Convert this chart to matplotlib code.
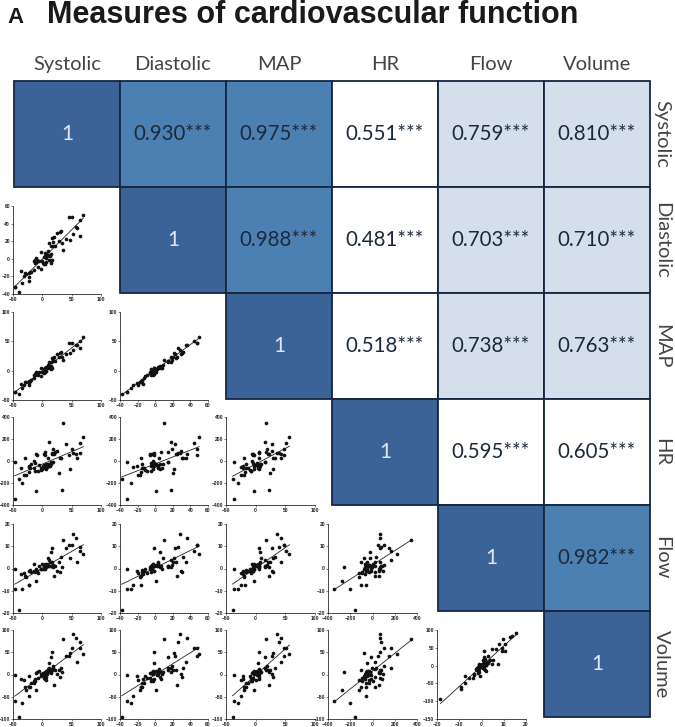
import numpy as np
import matplotlib
matplotlib.use('Agg')
import matplotlib.pyplot as plt
from matplotlib.patches import Rectangle

W, H = 675, 727

names = ['Systolic', 'Diastolic', 'MAP', 'HR', 'Flow', 'Volume']
r_labels = [['1', '0.930', '0.975', '0.551', '0.759', '0.810'],
            ['', '1', '0.988', '0.481', '0.703', '0.710'],
            ['', '', '1', '0.518', '0.738', '0.763'],
            ['', '', '', '1', '0.595', '0.605'],
            ['', '', '', '', '1', '0.982'],
            ['', '', '', '', '', '1']]

systolic = [-47, -47, -40, -37, -35, -31, -29, -27, -23, -22, -22, -21, -19, -15, -14, -13, -12,
            -11, -10, -9, -8, -6, -3, -2, 0, 1, 2, 3, 4, 5, 5, 6, 6, 7, 8, 9, 10, 11, 12, 13, 14,
            15, 15, 16, 17, 18, 19, 20, 21, 25, 29, 30, 33, 32, 35, 41, 46, 48, 50, 52, 57, 59,
            65, 65, 70]
diastolic = [-32, -32, -38, -14, -28, -20, -16, -17, -16, -25, -21, -15, -15, -13, -3, -5, -1,
             -4, 1, -1, -9, -2, -12, 8, -3, -5, -6, 2, -6, 7, 3, 1, 5, -4, 3, 4, 9, 18, -1, 3, 5,
             -5, 14, -1, 24, 19, 14, 25, 14, 29, 20, 30, 18, 32, 10, 22, 48, 21, 47, 28, 36, 35,
             44, 26, 50]
map_p = [-37, -37, -39, -22, -30, -24, -20, -20, -18, -24, -21, -17, -16, -13, -7, -8, -5,
         -6, -2, -4, -8, -3, -9, 5, -2, -3, -4, 2, -3, 5, 4, 3, 6, 0, 5, 6, 9, 15, 4, 7, 8,
         2, 15, 5, 21, 19, 16, 23, 17, 28, 24, 30, 23, 32, 18, 28, 48, 30, 48, 36, 43, 43,
         51, 39, 57]
hr = [-350, -10, -160, -65, -200, -125, 25, -125, -100, -55, -50, -60, -30, -60, 0, -90, -15,
      65, -275, 55, -95, -40, -80, -60, -70, -50, 65, -35, 55, 85, -60, -30, -70, -35, -55, 25,
      -25, 170, -45, -50, -25, -20, -10, 70, 65, 105, -5, 60, 80, 90, -105, 25, -260, 30, 345,
      150, 50, -75, 105, 70, 65, 25, 165, 75, 220]
flow = [-9, 0, -18.5, -2.5, -9, -2, -3.5, -4, -7.5, -7.5, -1, -0.5, -1.5, -1, 2, -1.5, -1,
        0, -5.5, -1, -2, 1, 0, 0, 2, 0, 0.5, 1, 0, 1, 2, 1.5, 0.5, 1.5, 2, 1, 4.5, 4, 1, 3,
        7.5, 1, 1, 9, 3, 1.5, 0.5, -3.5, 1, -1, 3, -1.5, 0.5, 5, 13, 9, 10.5, 4.5, 10.5, 15.5,
        13.5, 3, 8, 9.5, 6.3]
volume = [-60, -2, -95, -10, -65, -12, -27, -34, -28, -48, -3, -28, -20, -18, -14, -14, -10,
          3, -35, 5, -7, 7, -3, 2, 1, 4, -8, -2, 3, -10, 5, 8, -5, -12, 2, 12, 5, 15, 25, 8,
          5, 3, 40, 50, 10, 18, 15, -23, 10, 2, 10, -5, 5, 15, 79, 42, 42, 48, 60, 92, 82, 28,
          60, 74, 47]
series = [systolic, diastolic, map_p, hr, flow, volume]

x_ticks = [[-50, 0, 50, 100], [-40, -20, 0, 20, 40, 60], [-50, 0, 50, 100],
           [-400, -200, 0, 200, 400], [-20, -10, 0, 10, 20]]
y_ticks = [None, [-40, -20, 0, 20, 40, 60], [-50, 0, 50, 100], [-400, -200, 0, 200, 400],
           [-20, -10, 0, 10, 20], [-100, -50, 0, 50, 100]]
vol_flow_yticks = [-150, -100, -50, 0, 50, 100]

# panel boxes in pixels
col_left = [13, 120, 226, 328, 437]
col_right = [101, 208, 315, 417, 526]
row_top = [0, 206, 312, 417, 524, 630]
row_bot = [0, 294, 400, 505, 613, 719]

DARK = '#3c6398'
MID = '#4c80b2'
LIGHT = '#d5deeb'


def cell_color(txt):
    if txt == '1':
        return DARK
    v = float(txt)
    if v >= 0.9:
        return MID
    if v >= 0.7:
        return LIGHT
    return 'white'


def px_axes(l, t, r, b):
    return fig.add_axes([l / W, 1 - b / H, (r - l) / W, (b - t) / H])


fig = plt.figure(figsize=(W / 100, H / 100), dpi=100)

# correlation cells
ax = px_axes(14, 81, 650, 717)
ax.set_xlim(0, 6)
ax.set_ylim(6, 0)
ax.axis('off')
for i in range(6):
    ax.text(i + 0.5, -0.16, names[i], ha='center', va='center', family='Lato', fontsize=14.5, color='#444444')
    ax.text(6.11, i + 0.5, names[i], ha='center', va='center', family='Lato', fontsize=14.5, color='#444444',
            rotation=270, clip_on=False)
    for j in range(i, 6):
        txt = r_labels[i][j]
        ax.add_patch(Rectangle((j, i), 1, 1, fc=cell_color(txt), ec='#16263f', lw=1.3, clip_on=False))
        if txt == '1':
            ax.text(j + 0.5, i + 0.5, txt, ha='center', va='center', family='Lato', fontsize=15, color='#dfe6f2')
        else:
            ax.text(j + 0.5, i + 0.5, txt + '***', ha='center', va='center', family='Lato', fontsize=14.8,
                    color='#1c2a3c')

# scatter panels
for row in range(1, 6):
    for col in range(row):
        a = px_axes(col_left[col], row_top[row], col_right[col], row_bot[row])
        x = np.array(series[col], dtype=float)
        y = np.array(series[row], dtype=float)
        a.scatter(x, y, s=7, color='#111111', linewidths=0, zorder=3, clip_on=False)
        m, c = np.polyfit(x, y, 1)
        xs = np.array([x.min(), x.max()])
        a.plot(xs, m * xs + c, color='#222222', lw=0.6)
        xt = x_ticks[col]
        yt = vol_flow_yticks if (row == 5 and col == 4) else y_ticks[row]
        a.set_xlim(xt[0], xt[-1])
        a.set_ylim(yt[0], yt[-1])
        a.set_xticks(xt)
        a.set_yticks(yt)
        a.tick_params(labelsize=3.6, length=1.5, width=0.4, pad=0.6, colors='#222222')
        for lab in a.get_xticklabels() + a.get_yticklabels():
            lab.set_family('Liberation Sans')
            lab.set_fontweight('bold')
        a.patch.set_alpha(0)
        a.spines['top'].set_visible(False)
        a.spines['right'].set_visible(False)
        a.spines['left'].set_linewidth(0.5)
        a.spines['bottom'].set_linewidth(0.5)

fig.text(7 / W, 1 - 23 / H, 'A', family='Liberation Sans', fontweight='bold', fontsize=16, color='#1a1a1a',
         ha='left', va='baseline')
fig.text(47 / W, 1 - 23 / H, 'Measures of cardiovascular function', family='Liberation Sans', fontweight='bold',
         fontsize=22, color='#1a1a1a', ha='left', va='baseline')

fig.savefig('out.png', dpi=100)
